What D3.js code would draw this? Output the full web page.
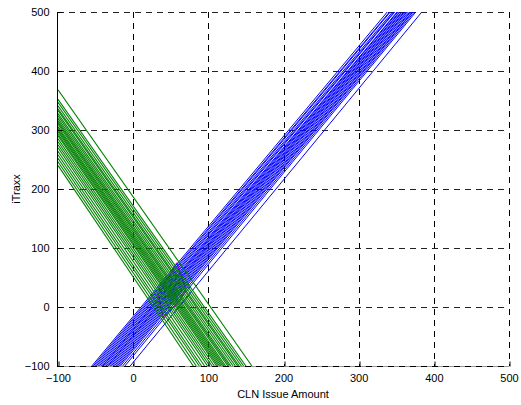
<!DOCTYPE html>
<html><head><meta charset="utf-8">
<script src="https://cdn.jsdelivr.net/npm/d3@7"></script>
<style>body{margin:0;background:#fff}svg{display:block;font-family:"Liberation Sans",Arial,sans-serif}</style>
</head><body>
<script>
const xTicks = [-100,0,100,200,300,400,500];
const yTicks = [-100,0,100,200,300,400,500];
// blue lines: x where each line meets y=-100 and y=500
const blueBottomX = [-55,-53,-51,-49,-47,-45,-43,-41,-40,-38,-36,-34,-33,-31,-29,-27,-25,-23,-21,-19,-17,-14,-11,-4];
const blueTopX    = [338,341,342,345,347,348,351,352,354,355,357,358,360,361,363,364,366,368,369,371,372,374,376,384];
// green lines: y where each line meets x=-100, x where it meets y=-100
const greenLeftY   = [368,352,347,341,336,333,328,324,320,316,313,310,306,303,300,297,293,290,285,280,275,270,264,258,252,246,240];
const greenBottomX = [158,150,147,144,141,139,136,133,130,128,126,123,121,119,117,115,113,111,108,105,102,99,95,91,88,84,80];
// magenta outline near the crossing
const magentaX = [58,70,62,40,33,58];
const magentaY = [75,30,10,-17,20,75];

const W=521,H=405;
const svg=d3.select("body").append("svg").attr("width",W).attr("height",H);
const x=d3.scaleLinear().domain([-100,500]).range([58,509]);
const y=d3.scaleLinear().domain([-100,500]).range([366,12]);

svg.append("defs").append("clipPath").attr("id","c").append("rect")
  .attr("x",58).attr("y",12).attr("width",451).attr("height",354);

const g=svg.append("g");
xTicks.forEach(t=>{ if(t===-100) return;
  g.append("line").attr("x1",Math.round(x(t))+0.5).attr("x2",Math.round(x(t))+0.5)
   .attr("y1",12).attr("y2",366).attr("stroke","#000").attr("stroke-dasharray","6,5");});
yTicks.forEach(t=>{ if(t===-100) return;
  g.append("line").attr("y1",Math.round(y(t))+0.5).attr("y2",Math.round(y(t))+0.5)
   .attr("x1",58).attr("x2",509).attr("stroke","#222").attr("stroke-dasharray","6,5");});

const plot=svg.append("g").attr("clip-path","url(#c)");
const line=d3.line().x(d=>x(d[0])).y(d=>y(d[1]));
plot.append("path").datum(magentaX.map((v,i)=>[v,magentaY[i]])).attr("d",line)
  .attr("fill","none").attr("stroke","#ff00ff").attr("stroke-width",1.2);
blueBottomX.forEach((b,i)=>{
  plot.append("path").datum([[b,-100],[blueTopX[i],500]]).attr("d",line)
   .attr("fill","none").attr("stroke","#0000ff").attr("stroke-width",1);
});
greenLeftY.forEach((l,i)=>{
  plot.append("path").datum([[-100,l],[greenBottomX[i],-100]]).attr("d",line)
   .attr("fill","none").attr("stroke","#008000").attr("stroke-width",1.1);
});

svg.append("line").attr("x1",58).attr("x2",509).attr("y1",366.5).attr("y2",366.5).attr("stroke","#999");
svg.append("line").attr("x1",58).attr("x2",509).attr("y1",366.5).attr("y2",366.5).attr("stroke","#000").attr("stroke-dasharray","6,5");
svg.append("line").attr("x1",57.5).attr("x2",57.5).attr("y1",12).attr("y2",367).attr("stroke","#000");

const ax=svg.append("g").attr("transform","translate(0,366.5)")
  .call(d3.axisBottom(x).tickValues(xTicks).tickSize(-5).tickPadding(8));
ax.select(".domain").remove();
ax.selectAll("line").attr("transform",d=>`translate(${Math.round(x(d))+0.5-x(d)},0)`);
ax.selectAll("text").attr("font-size",11).attr("font-family","Liberation Sans, Arial, sans-serif").attr("fill","#000");
const ay=svg.append("g").attr("transform","translate(57.5,0)")
  .call(d3.axisLeft(y).tickValues(yTicks).tickSize(-5).tickPadding(8));
ay.select(".domain").remove();
ay.selectAll("text").attr("font-size",11).attr("font-family","Liberation Sans, Arial, sans-serif").attr("fill","#000");

svg.append("text").attr("x",283).attr("y",398).attr("text-anchor","middle")
  .attr("font-size",11).text("CLN Issue Amount");
svg.append("text").attr("transform","translate(20,189) rotate(-90)").attr("text-anchor","middle")
  .attr("font-size",11).text("iTraxx");
</script>
</body></html>
